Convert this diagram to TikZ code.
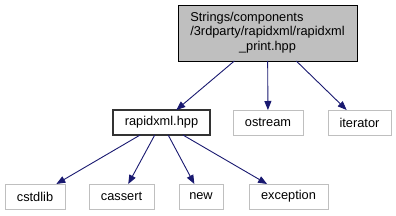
\documentclass[tikz,border=0pt]{standalone}
\usepackage{fontspec}
\setmainfont{Liberation Sans}
\usetikzlibrary{arrows.meta}
\definecolor{edgecol}{HTML}{191970}
\definecolor{topfill}{HTML}{BFBFBF}
\definecolor{grayline}{HTML}{BFBFBF}
\tikzset{
  every node/.style={font=\fontsize{12.8}{14.5}\selectfont, inner sep=0pt, outer sep=0pt},
  topbox/.style={draw=black, fill=topfill, line width=0.9pt, minimum width=179pt, minimum height=56pt},
  mainbox/.style={draw=black!80, fill=white, line width=1.2pt, minimum height=25pt},
  sysbox/.style={draw=grayline, fill=white, line width=0.9pt, minimum height=25pt},
  dep/.style={draw=edgecol, line width=0.9pt, -{Triangle[length=9pt,width=7pt]}}
}
\begin{document}
\begin{tikzpicture}[x=1pt,y=-1pt]
\useasboundingbox (0,0) rectangle (396,216);
\node[topbox] (top) at (267.5,33) {\begin{tabular}{@{}l@{}}Strings/components\\/3rdparty/rapidxml/rapidxml\\\multicolumn{1}{@{}c@{}}{\_print.hpp}\end{tabular}};
\node[mainbox, minimum width=97pt] (rapid) at (161.5,122.5) {rapidxml.hpp};
\node[sysbox, minimum width=70pt] (ostream) at (268,122.5) {ostream};
\node[sysbox, minimum width=63pt] (iterator) at (359.5,122.5) {iterator};
\node[sysbox, minimum width=60pt] (cstdlib) at (35,196.5) {cstdlib};
\node[sysbox, minimum width=65pt] (cassert) at (121.5,196.5) {cassert};
\node[sysbox, minimum width=44pt] (new) at (201,196.5) {new};
\node[sysbox, minimum width=79pt] (exception) at (288.5,196.5) {exception};
\draw[dep] (top) -- (rapid);
\draw[dep] (top) -- (ostream);
\draw[dep] (top) -- (iterator);
\draw[dep] (rapid) -- (cstdlib);
\draw[dep] (rapid) -- (cassert);
\draw[dep] (rapid) -- (new);
\draw[dep] (rapid) -- (exception);
\end{tikzpicture}
\end{document}
